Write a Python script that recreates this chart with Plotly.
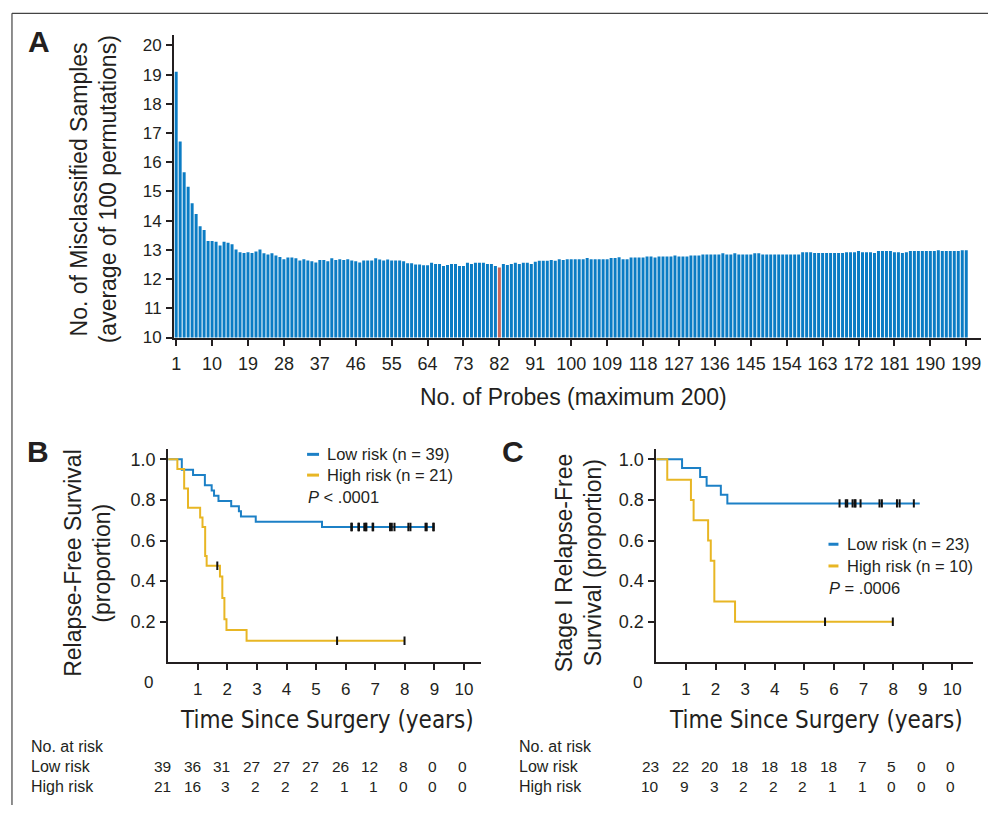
import plotly.graph_objects as go

W, H = 988, 815
TXT = "#231f20"
BLUE = "#0b7cc4"
KM_BLUE = "#1c80c6"
KM_YEL = "#e8b624"
RED = "#c9675b"
FONT = "Liberation Sans, Arial, sans-serif"
NARROW = "DejaVu Sans Condensed, Liberation Sans Narrow, Liberation Sans, Arial, sans-serif"

# ---------------- Panel A data ----------------
n_probes = list(range(1, 200))
misclassified = [
    19.10, 16.71, 15.66, 15.16, 14.60, 14.23, 13.81, 13.68, 13.30, 13.30, 13.28, 13.15, 13.28, 13.24,
    13.19, 13.01, 12.92, 12.89, 12.92, 12.89, 12.94, 13.01, 12.88, 12.84,
    12.88, 12.81, 12.76, 12.68, 12.74, 12.74, 12.71, 12.64, 12.68, 12.64,
    12.61, 12.57, 12.65, 12.65, 12.61, 12.71, 12.65, 12.68, 12.65, 12.68,
    12.64, 12.61, 12.57, 12.64, 12.64, 12.64, 12.71, 12.67, 12.64, 12.67,
    12.64, 12.64, 12.64, 12.61, 12.54, 12.54, 12.50, 12.50, 12.47, 12.47,
    12.56, 12.52, 12.52, 12.45, 12.48, 12.52, 12.52, 12.45, 12.45, 12.56,
    12.52, 12.56, 12.56, 12.56, 12.52, 12.52, 12.45, 12.40, 12.52, 12.48,
    12.52, 12.56, 12.52, 12.56, 12.56, 12.52, 12.59, 12.63, 12.63, 12.63,
    12.65, 12.63, 12.68, 12.65, 12.68, 12.68, 12.68, 12.68, 12.68, 12.72,
    12.68, 12.68, 12.68, 12.68, 12.68, 12.72, 12.72, 12.75, 12.68, 12.68,
    12.74, 12.74, 12.74, 12.74, 12.77, 12.77, 12.74, 12.77, 12.77, 12.77,
    12.77, 12.81, 12.77, 12.77, 12.77, 12.81, 12.81, 12.81, 12.84, 12.84,
    12.84, 12.84, 12.84, 12.88, 12.84, 12.84, 12.88, 12.84, 12.84, 12.84,
    12.84, 12.88, 12.88, 12.84, 12.84, 12.84, 12.84, 12.84, 12.84, 12.84,
    12.84, 12.84, 12.84, 12.92, 12.92, 12.92, 12.89, 12.89, 12.89, 12.89, 12.89,
    12.89, 12.89, 12.89, 12.92, 12.92, 12.92, 12.96, 12.92, 12.92, 12.92,
    12.89, 12.96, 12.96, 12.96, 12.96, 12.92, 12.92, 12.89, 12.92, 12.96,
    12.96, 12.96, 12.96, 12.96, 12.96, 12.96, 12.99, 12.96, 12.96, 12.96,
    12.96, 12.96, 12.99, 12.99,
]
optimal_probes = 82
a_xticks = list(range(1, 200, 9))
a_yticks = list(range(10, 21))

# ---------------- Panel B data ----------------
b_low_t = [0, 0.46, 0.84, 1.24, 1.47, 1.55, 1.70, 2.13, 2.39, 2.46, 2.96, 5.20, 9.00]
b_low_s = [1.0, 0.949, 0.923, 0.872, 0.846, 0.821, 0.795, 0.769, 0.744, 0.718, 0.692, 0.667, 0.667]
b_low_cens = [6.19, 6.21, 6.43, 6.45, 6.63, 6.68, 6.70, 6.91, 6.93, 7.50, 7.56, 7.65, 8.12, 8.19, 8.70, 8.74, 8.96, 8.98]
b_high_t = [0, 0.31, 0.54, 0.67, 1.08, 1.16, 1.25, 1.30, 1.75, 1.83, 1.90, 1.97, 2.65, 7.99]
b_high_s = [1.0, 0.952, 0.857, 0.762, 0.714, 0.667, 0.524, 0.476, 0.423, 0.317, 0.212, 0.159, 0.106, 0.106]
b_high_cens_t = [1.66, 5.71, 7.99]
b_high_cens_s = [0.476, 0.106, 0.106]
b_risk_low = [39, 36, 31, 27, 27, 27, 26, 12, 8, 0, 0]
b_risk_high = [21, 16, 3, 2, 2, 2, 1, 1, 0, 0, 0]

# ---------------- Panel C data ----------------
c_low_t = [0, 0.87, 1.48, 1.70, 2.18, 2.40, 8.90]
c_low_s = [1.0, 0.957, 0.913, 0.870, 0.826, 0.783, 0.783]
c_low_cens = [6.19, 6.40, 6.45, 6.63, 6.70, 6.73, 6.90, 7.54, 7.62, 8.13, 8.22, 8.70]
c_high_t = [0, 0.37, 1.17, 1.26, 1.75, 1.84, 1.96, 2.66, 7.99]
c_high_s = [1.0, 0.9, 0.8, 0.7, 0.6, 0.5, 0.3, 0.2, 0.2]
c_high_cens = [5.70, 7.99]
c_risk_low = [23, 22, 20, 18, 18, 18, 18, 7, 5, 0, 0]
c_risk_high = [10, 9, 3, 2, 2, 2, 1, 1, 0, 0, 0]

km_xticks = list(range(1, 11))
km_yticks = [0.2, 0.4, 0.6, 0.8, 1.0]
years = list(range(0, 11))


def px(x):
    return x / W


def py(y):
    return 1 - y / H


fig = go.Figure()

# Panel A bars
bar_colors = [RED if n == optimal_probes else BLUE for n in n_probes]
fig.add_trace(go.Bar(x=n_probes, y=misclassified, marker=dict(color=bar_colors, line=dict(width=0)),
                     xaxis="x", yaxis="y", showlegend=False))


def surv_value_at(ts, ss, t):
    v = ss[0]
    for ti, si in zip(ts, ss):
        if ti <= t:
            v = si
    return v


def add_km(xa, ya, t, s, color, cens_t, cens_s=None):
    fig.add_trace(go.Scatter(x=t, y=s, mode="lines", line=dict(color=color, width=2, shape="hv"),
                             xaxis=xa, yaxis=ya, showlegend=False))
    if cens_s is None:
        cens_s = [surv_value_at(t, s, c) for c in cens_t]
    fig.add_trace(go.Scatter(x=cens_t, y=cens_s, mode="markers",
                             marker=dict(symbol="line-ns", size=6, line=dict(color="#111111", width=2)),
                             xaxis=xa, yaxis=ya, showlegend=False))


add_km("x2", "y2", b_low_t, b_low_s, KM_BLUE, b_low_cens)
add_km("x2", "y2", b_high_t, b_high_s, KM_YEL, b_high_cens_t, b_high_cens_s)
add_km("x3", "y3", c_low_t, c_low_s, KM_BLUE, c_low_cens)
add_km("x3", "y3", c_high_t, c_high_s, KM_YEL, c_high_cens)


def axis(size=17, standoff=0):
    return dict(showline=True, linecolor=TXT, linewidth=2, ticks="outside", tickcolor=TXT,
                tickwidth=1.5, ticklen=6, showgrid=False, zeroline=False,
                ticklabelstandoff=standoff,
                tickfont=dict(family=FONT, size=size, color=TXT))


fig.update_layout(
    width=W, height=H, margin=dict(l=0, r=0, t=0, b=0),
    paper_bgcolor="white", plot_bgcolor="white",
    bargap=0.25,
    xaxis=dict(domain=[px(171.7), px(981)], range=[0.5, 202.7], tickvals=a_xticks,
               anchor="y", **axis(18, 3)),
    yaxis=dict(domain=[py(341.7), py(35)], range=[10, 20.37], tickvals=a_yticks,
               anchor="x", **axis(17, 1)),
    xaxis2=dict(domain=[px(165.7), px(479)], range=[0, 10.56], tickvals=km_xticks,
                anchor="y2", **axis(17, 4)),
    yaxis2=dict(domain=[py(670.5), py(455)], range=[0, 1.049], tickvals=km_yticks,
                tickformat=".1f", anchor="x2", **axis(18, 1)),
    xaxis3=dict(domain=[px(655.3), px(973)], range=[0, 10.7], tickvals=km_xticks,
                anchor="y3", **axis(17, 4)),
    yaxis3=dict(domain=[py(670.5), py(455)], range=[0, 1.049], tickvals=km_yticks,
                tickformat=".1f", anchor="x3", **axis(18, 1)),
)

ann = []


def text(x, y, s, size=17, family=FONT, xanchor="center", angle=0, xref="paper", xshift=0):
    ann.append(dict(x=x if xref != "paper" else px(x), y=py(y), xref=xref, yref="paper", text=s,
                    showarrow=False, xanchor=xanchor, yanchor="middle", textangle=angle, xshift=xshift,
                    font=dict(family=family, size=size, color=TXT)))


# panel letters
text(36, 42, "<b>A</b>", size=30)
text(35, 457, "<b>B</b>", size=30)
text(512, 457, "<b>C</b>", size=30)

# Panel A titles
text(76, 192, "No. of Misclassified Samples", size=23, angle=-90)
text(105, 192, "(average of 100 permutations)", size=23, angle=-90)
text(572, 402, "No. of Probes (maximum 200)", size=23)

# Panel B titles
text(70, 570, "Relapse-Free Survival", size=23, angle=-90)
text(99, 570, "(proportion)", size=23, angle=-90)
text(325, 729, "Time Since Surgery (years)", size=24, family=NARROW)
text(146, 691, "0", size=17)

# Panel C titles
text(563, 570, "Stage I Relapse-Free", size=23, angle=-90)
text(592, 570, "Survival (proportion)", size=23, angle=-90)
text(815, 729, "Time Since Surgery (years)", size=24, family=NARROW)
text(636, 691, "0", size=17)

# Legends (text)
text(323, 460, "Low risk (n = 39)", size=16.5, xanchor="left")
text(323, 481, "High risk (n = 21)", size=16.5, xanchor="left")
text(304, 503, "<i>P</i> < .0001", size=16.5, xanchor="left")
text(845, 551, "Low risk (n = 23)", size=16.5, xanchor="left")
text(845, 573, "High risk (n = 10)", size=16.5, xanchor="left")
text(827, 595, "<i>P</i> = .0006", size=16.5, xanchor="left")

# Risk tables
for x0 in (26, 516):
    text(x0, 756, "No. at risk", size=16, xanchor="left")
    text(x0, 776, "Low risk", size=16, xanchor="left")
    text(x0, 796, "High risk", size=16, xanchor="left")
for t, lo, hi in zip(years, b_risk_low, b_risk_high):
    text(t, 776, str(lo), size=15.5, xanchor="right", xref="x2", xshift=5)
    text(t, 796, str(hi), size=15.5, xanchor="right", xref="x2", xshift=5)
for t, lo, hi in zip(years, c_risk_low, c_risk_high):
    text(t, 776, str(lo), size=15.5, xanchor="right", xref="x3", xshift=5)
    text(t, 796, str(hi), size=15.5, xanchor="right", xref="x3", xshift=5)

shapes = [
    # frame
    dict(type="line", xref="paper", yref="paper", x0=px(9), x1=1, y0=py(13.5), y1=py(13.5),
         line=dict(color="#444444", width=1.2)),
    dict(type="line", xref="paper", yref="paper", x0=px(9), x1=px(9), y0=py(13.5), y1=0,
         line=dict(color="#444444", width=1.2)),
    # legend swatches
    dict(type="line", xref="paper", yref="paper", x0=px(305), x1=px(317), y0=py(460), y1=py(460),
         line=dict(color=KM_BLUE, width=3)),
    dict(type="line", xref="paper", yref="paper", x0=px(305), x1=px(317), y0=py(481), y1=py(481),
         line=dict(color=KM_YEL, width=3)),
    dict(type="line", xref="paper", yref="paper", x0=px(828), x1=px(838), y0=py(551), y1=py(551),
         line=dict(color=KM_BLUE, width=3)),
    dict(type="line", xref="paper", yref="paper", x0=px(828), x1=px(838), y0=py(573), y1=py(573),
         line=dict(color=KM_YEL, width=3)),
]
fig.update_layout(annotations=ann, shapes=shapes)

fig.write_html("out.html")
